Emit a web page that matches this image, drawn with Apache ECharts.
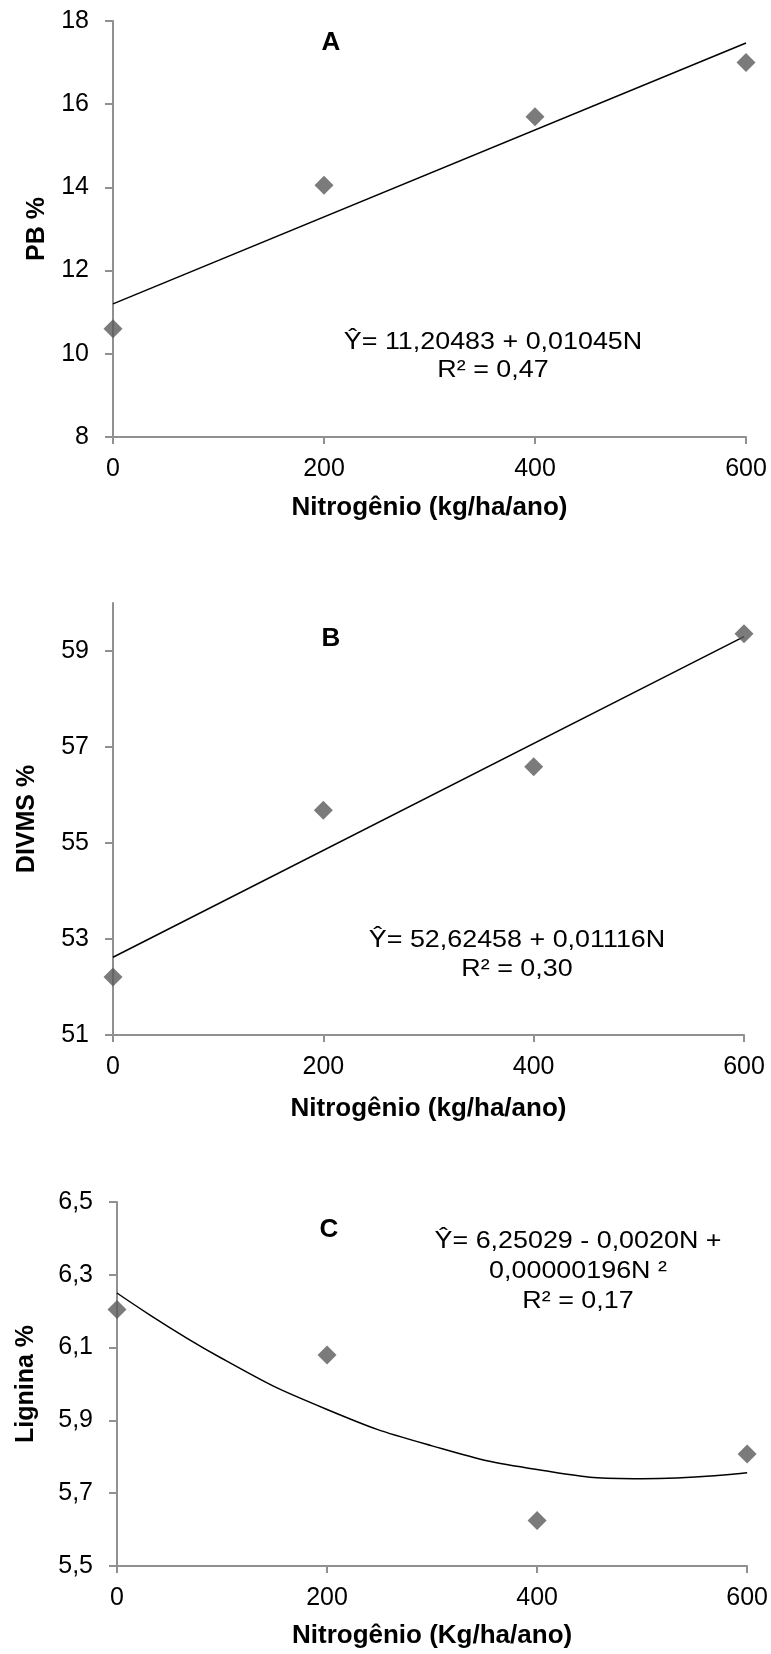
<!DOCTYPE html>
<html>
<head>
<meta charset="utf-8">
<script src="https://cdn.jsdelivr.net/npm/echarts@6/dist/echarts.min.js"></script>
<style>
  html, body { margin: 0; padding: 0; background: #fff; }
  #chart { width: 771px; height: 1654px; }
</style>
</head>
<body>
<div id="chart"></div>
<script>
// ---- dados ----
const nitrogen = [0, 200, 400, 600];
const xTicks = [0, 200, 400, 600];

const pbValues = [10.6, 14.05, 15.7, 17.0];
const pbTrendN = [0, 600];
const pbTrendY = [11.2, 17.47];
const pbTicks = [8, 10, 12, 14, 16, 18];

const divmsValues = [52.21, 55.68, 56.59, 59.36];
const divmsTrendN = [0, 600];
const divmsTrendY = [52.62, 59.3];
const divmsTicks = [51, 53, 55, 57, 59];

const ligninaValues = [6.205, 6.08, 5.625, 5.808];
const ligninaCurveN = [0, 100, 200, 300, 400, 500, 600];
const ligninaCurveY = [6.25, 6.07, 5.93, 5.83, 5.765, 5.74, 5.756];
const ligninaTicks = [5.5, 5.7, 5.9, 6.1, 6.3, 6.5];

const FONT = "'Liberation Sans', Arial, sans-serif";
const AXIS_COLOR = '#909090';
const POINT_COLOR = '#5a5a5a';

const pairs = (xs, ys) => xs.map((x, i) => [x, ys[i]]);
const comma = (d) => (v) => v.toFixed(d).replace('.', ',');

function xAxisFor(gridIndex, name, gap) {
  return {
    type: 'value', gridIndex, min: 0, max: 600,
    name, nameLocation: 'middle', nameGap: gap,
    nameTextStyle: { fontFamily: FONT, fontSize: 26, fontWeight: 'bold', color: '#000' },
    axisLine: { show: true, lineStyle: { color: AXIS_COLOR, width: 2 } },
    axisTick: { show: true, length: 7, customValues: xTicks, lineStyle: { color: AXIS_COLOR, width: 2 } },
    axisLabel: { customValues: xTicks, margin: 20, fontFamily: FONT, fontSize: 25, color: '#000' },
    splitLine: { show: false },
  };
}

function yAxisFor(gridIndex, name, min, max, ticks, gap, fmt) {
  return {
    type: 'value', gridIndex, min, max,
    name, nameLocation: 'middle', nameGap: gap,
    nameTextStyle: { fontFamily: FONT, fontSize: 25, fontWeight: 'bold', color: '#000' },
    axisLine: { show: true, lineStyle: { color: AXIS_COLOR, width: 2 } },
    axisTick: { show: true, length: 8, customValues: ticks, lineStyle: { color: AXIS_COLOR, width: 2 } },
    axisLabel: { customValues: ticks, margin: 24, fontFamily: FONT, fontSize: 25, color: '#000', formatter: fmt },
    splitLine: { show: false },
  };
}

function scatter(i, ys) {
  return {
    type: 'scatter', xAxisIndex: i, yAxisIndex: i,
    data: pairs(nitrogen, ys), symbol: 'diamond', symbolSize: 19,
    itemStyle: { color: POINT_COLOR }, z: 3,
  };
}

function trend(i, xs, ys, smooth) {
  return {
    type: 'line', xAxisIndex: i, yAxisIndex: i,
    data: pairs(xs, ys), showSymbol: false, smooth: smooth || false,
    lineStyle: { color: '#000', width: 1.5 }, z: 2,
  };
}

// texto do gráfico (letras dos painéis e equações); a figura original é um pouco esticada na horizontal
function label(x, y, text, size, bold) {
  return {
    type: 'text', x, y, scaleX: bold ? 1 : 1.12,
    style: {
      text, fill: '#000', align: 'center', verticalAlign: 'middle',
      font: (bold ? 'bold ' : '') + size + 'px ' + FONT,
    },
  };
}

const chart = echarts.init(document.getElementById('chart'));
chart.setOption({
  animation: false,
  grid: [
    { left: 113, top: 21, width: 633, height: 416 },
    { left: 113, top: 603, width: 631, height: 432 },
    { left: 117, top: 1202, width: 633, height: 364 },
  ],
  xAxis: [
    xAxisFor(0, 'Nitrogênio (kg/ha/ano)', 58),
    xAxisFor(1, 'Nitrogênio (kg/ha/ano)', 61),
    xAxisFor(2, 'Nitrogênio (Kg/ha/ano)', 57),
  ],
  yAxis: [
    yAxisFor(0, 'PB %', 8, 18, pbTicks, 63, (v) => String(v)),
    yAxisFor(1, 'DIVMS %', 51, 60, divmsTicks, 73, (v) => String(v)),
    yAxisFor(2, 'Lignina %', 5.5, 6.5, ligninaTicks, 78, comma(1)),
  ],
  series: [
    trend(0, pbTrendN, pbTrendY),
    scatter(0, pbValues),
    trend(1, divmsTrendN, divmsTrendY),
    scatter(1, divmsValues),
    trend(2, ligninaCurveN, ligninaCurveY, 0.5),
    scatter(2, ligninaValues),
  ],
  graphic: [
    label(331, 43, 'A', 26, true),
    label(493, 342, 'Ŷ= 11,20483 + 0,01045N', 24),
    label(493, 370, 'R² = 0,47', 24),
    label(331, 639, 'B', 26, true),
    label(517, 940, 'Ŷ= 52,62458 + 0,01116N', 24),
    label(517, 969, 'R² = 0,30', 24),
    label(329, 1230, 'C', 26, true),
    label(578, 1241, 'Ŷ= 6,25029 - 0,0020N +', 24),
    label(578, 1271, '0,00000196N ²', 24),
    label(578, 1301, 'R² = 0,17', 24),
  ],
});
</script>
</body>
</html>
